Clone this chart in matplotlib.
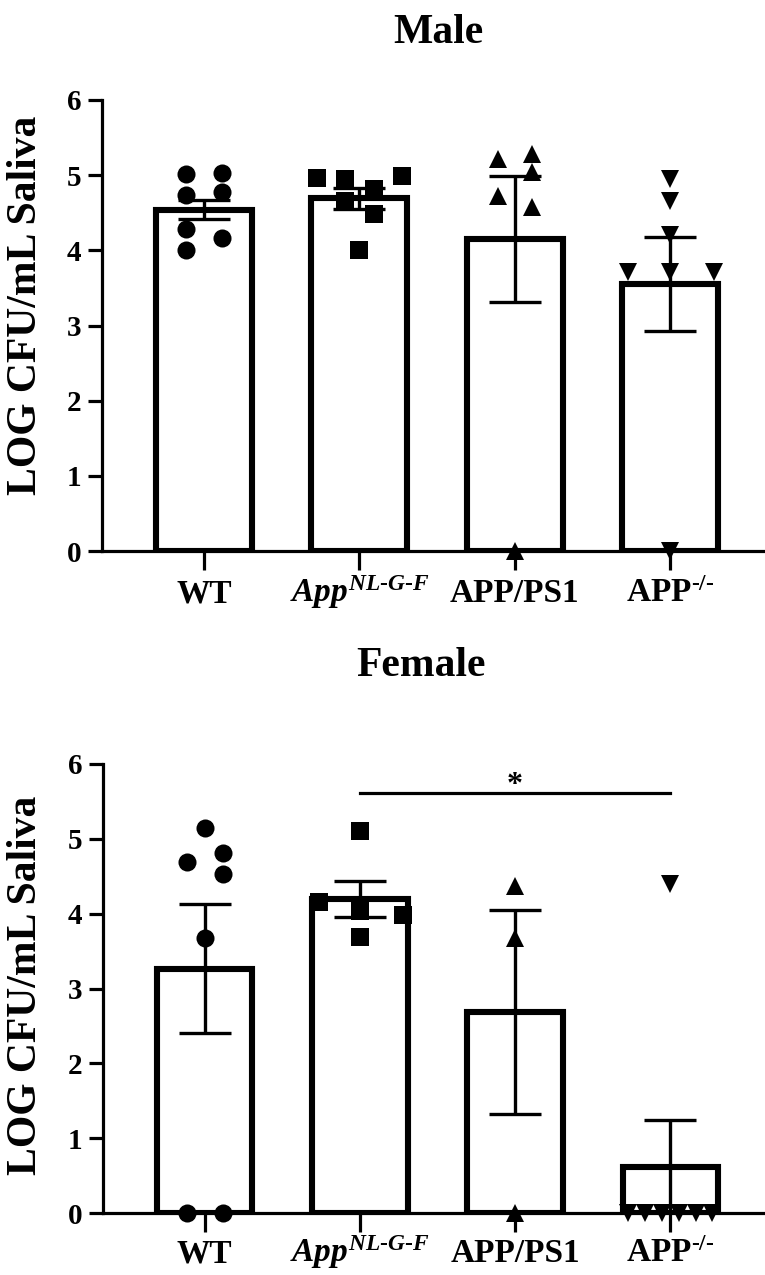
import matplotlib
matplotlib.use("Agg")
import matplotlib.pyplot as plt
import numpy as np

plt.rcParams["font.family"] = ["Liberation Serif", "DejaVu Serif"]
plt.rcParams["font.weight"] = "bold"
plt.rcParams["mathtext.fontset"] = "custom"
plt.rcParams["mathtext.rm"] = "Liberation Serif:bold"
plt.rcParams["mathtext.it"] = "Liberation Serif:italic:bold"
plt.rcParams["mathtext.bf"] = "Liberation Serif:bold"
plt.rcParams["axes.linewidth"] = 2.3

GROUPS = ["WT", r"$App^{NL‐G‐F}$", "APP/PS1", r"$\mathrm{APP}^{\mathrm{‐/‐}}$"]
MARKERS = ["o", "s", "^", "v"]

# Male: bar means and SEM
male_mean = [4.54, 4.69, 4.15, 3.55]
male_sem = [0.125, 0.135, 0.84, 0.625]

# Male: individual animals
male_wt = [5.01, 5.03, 4.74, 4.77, 4.29, 4.17, 4.00]
male_app = [4.96, 4.95, 4.81, 4.66, 4.48, 4.99, 4.00]
male_ps1 = [5.21, 5.28, 5.04, 4.72, 4.57, 0.0]
male_ko = [4.95, 4.66, 4.20, 3.71, 3.71, 3.71, 0.0]

# horizontal spread of the dots, in category units
male_wt_dx = [-0.115, 0.115, -0.115, 0.115, -0.115, 0.115, -0.115]
male_app_dx = [-0.27, -0.09, 0.095, -0.09, 0.095, 0.275, 0.0]
male_ps1_dx = [-0.105, 0.11, 0.11, -0.105, 0.11, 0.0]
male_ko_dx = [0.0, 0.0, 0.0, -0.27, 0.0, 0.28, 0.0]

# Female: bar means and SEM
female_mean = [3.265, 4.19, 2.685, 0.62]
female_sem = [0.865, 0.24, 1.365, 0.62]

# Female: individual animals
female_wt = [5.15, 4.69, 4.81, 4.53, 3.68, 0.0, 0.0]
female_app = [5.10, 4.16, 4.03, 3.98, 3.69]
female_ps1 = [4.37, 3.68, 0.0]
female_ko = [4.40, 0.0, 0.0, 0.0, 0.0, 0.0, 0.0]

female_wt_dx = [0.0, -0.115, 0.115, 0.115, 0.0, -0.115, 0.115]
female_app_dx = [0.0, -0.265, 0.0, 0.28, 0.0]
female_ps1_dx = [0.0, 0.0, 0.0]
female_ko_dx = [0.0, -0.27, -0.165, -0.055, 0.055, 0.165, 0.27]

# significance: App vs APP-/- in females
sig_pair = (1, 3)
sig_y = 5.61
sig_text = "*"


def draw_panel(ax, means, sems, points, offsets, pad):
    x = np.arange(len(GROUPS))
    ax.bar(x, means, width=0.615, color="white", edgecolor="black",
           linewidth=4.4, zorder=2)
    for i, (vals, dx) in enumerate(zip(points, offsets)):
        size = 12.5 if MARKERS[i] == "s" else 13
        ax.plot(i + np.array(dx), vals, ls="none", marker=MARKERS[i],
                ms=size, color="black", mew=0, zorder=3, clip_on=False)
    ax.errorbar(x, means, yerr=sems, fmt="none", ecolor="black",
                elinewidth=2.4, capsize=19, capthick=2.4, zorder=4)

    ax.set_xlim(-0.655, 3.61)
    ax.set_ylim(0, 6)
    ax.set_yticks(range(7))
    ax.set_xticks(x, GROUPS, va="baseline")
    ax.spines[["top", "right"]].set_visible(False)
    ax.tick_params(axis="y", length=10, width=2.3, pad=5, labelsize=21)
    ax.tick_params(axis="x", length=13.5, width=2.3, pad=pad, labelsize=24)


fig = plt.figure(figsize=(7.65, 12.75), dpi=100)
ax_m = fig.add_axes([102 / 765, 1 - 551 / 1275, 663 / 765, 451 / 1275])
ax_f = fig.add_axes([103 / 765, 1 - 1213 / 1275, 662 / 765, 449 / 1275])

draw_panel(ax_m, male_mean, male_sem,
           [male_wt, male_app, male_ps1, male_ko],
           [male_wt_dx, male_app_dx, male_ps1_dx, male_ko_dx], pad=23.5)
draw_panel(ax_f, female_mean, female_sem,
           [female_wt, female_app, female_ps1, female_ko],
           [female_wt_dx, female_app_dx, female_ps1_dx, female_ko_dx], pad=22)

ax_f.plot(sig_pair, [sig_y, sig_y], color="black", lw=2.3, zorder=5)
ax_f.text(np.mean(sig_pair), sig_y, sig_text, ha="center", va="baseline",
          fontsize=23, fontweight="bold")

fig.text(438 / 765, 1 - 43 / 1275, "Male", ha="center", va="baseline",
         fontsize=30, fontweight="bold")
fig.text(421 / 765, 1 - 676 / 1275, "Female", ha="center", va="baseline",
         fontsize=30, fontweight="bold")

for y_px in (305, 985):
    fig.text(26 / 765, 1 - y_px / 1275, "LOG CFU/mL Saliva", rotation=90,
             ha="center", va="center", fontsize=30, fontweight="bold")

fig.savefig("out.png", dpi=100)
